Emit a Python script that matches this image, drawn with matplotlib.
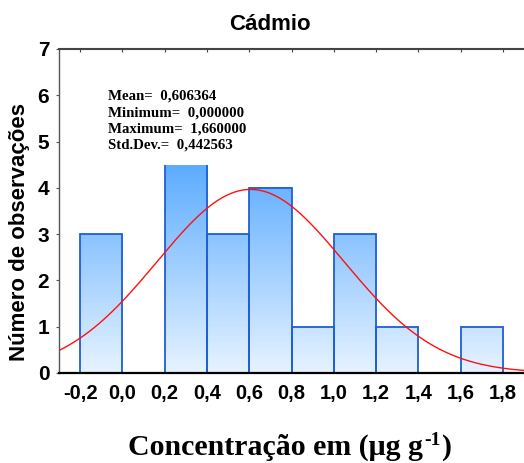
import numpy as np
import matplotlib
matplotlib.use("Agg")
import matplotlib.pyplot as plt
from matplotlib.colors import LinearSegmentedColormap
from matplotlib.patches import Rectangle
from matplotlib.transforms import offset_copy

# histogram of cadmium concentrations
bin_edges = [-0.2, 0.0, 0.2, 0.4, 0.6, 0.8, 1.0, 1.2, 1.4, 1.6, 1.8]
counts = [3, 0, 6, 3, 4, 1, 3, 1, 0, 1]
mean = 0.606364
minimum = 0.0
maximum = 1.66
std_dev = 0.442563
x_ticks = [-0.2, 0.0, 0.2, 0.4, 0.6, 0.8, 1.0, 1.2, 1.4, 1.6, 1.8]
y_ticks = [0, 1, 2, 3, 4, 5, 6, 7]

W, H = 524, 463
fig = plt.figure(figsize=(W / 100, H / 100), dpi=100)
ax = fig.add_axes([59 / W, 90 / H, 1 - 59 / W, 324 / H])

widths = np.diff(bin_edges)
bars = ax.bar(bin_edges[:-1], counts, width=widths, align='edge',
              facecolor='none', edgecolor='#1f5fd6', linewidth=1.3, zorder=2)

# vertical gradient fill, same shade at the same height for every bar
grad = LinearSegmentedColormap.from_list('g', ['#e6f3ff', '#4ea4ff'])
for b in bars:
    h = b.get_height()
    if h <= 0:
        continue
    x0 = b.get_x()
    yy = np.linspace(0, h, 100)[:, None] / 5.0
    ax.imshow(yy, cmap=grad, vmin=0, vmax=1, origin='lower', aspect='auto',
              extent=(x0, x0 + b.get_width(), 0, h), zorder=1, interpolation='bilinear')
ax.set_xlim(-0.3, 1.9)
ax.set_ylim(0, 7)

# fitted normal curve, scaled to counts
n = sum(counts)
bw = widths[0]
xs = np.linspace(-0.3, 1.9, 400)
ys = n * bw * np.exp(-0.5 * ((xs - mean) / std_dev) ** 2) / (std_dev * np.sqrt(2 * np.pi))
ax.plot(xs, ys, color='#ff1010', linewidth=1.0, zorder=4)

# statistics box
ax.add_patch(Rectangle((0.088, 0.642), 0.34, 0.27, transform=ax.transAxes,
                       facecolor='white', edgecolor='none', zorder=5))
fmt = lambda v: f"{v:.6f}".replace('.', ',')
lines = [f"Mean=  {fmt(mean)}", f"Minimum=  {fmt(minimum)}",
         f"Maximum=  {fmt(maximum)}", f"Std.Dev.=  {fmt(std_dev)}"]
for i, s in enumerate(lines):
    ax.text(0.105, (373 - 100 - 16.2 * i) / 324, s, transform=ax.transAxes,
            fontsize=10.7, fontweight='bold', family='Liberation Serif',
            va='baseline', ha='left', zorder=6)

# frame
ax.spines['right'].set_visible(False)
ax.spines['left'].set_color('#555555')
ax.spines['left'].set_linewidth(1.0)
ax.spines['top'].set_color('#444444')
ax.spines['top'].set_linewidth(1.5)
ax.spines['bottom'].set_color('black')
ax.spines['bottom'].set_linewidth(1.6)
for s in ax.spines.values():
    s.set_zorder(7)

ax.set_xticks(x_ticks)
ax.set_xticklabels([f"{v:.1f}".replace('.', ',') for v in x_ticks])
ax.set_yticks(y_ticks)
ax.tick_params(axis='x', bottom=False, top=True, direction='in', length=2,
               color='#444444', pad=8, labelsize=14.5)
ax.tick_params(axis='y', left=True, direction='out', length=2,
               color='#555555', pad=5, labelsize=15)
for lab in ax.get_xticklabels() + ax.get_yticklabels():
    lab.set_fontweight('bold')
    lab.set_family('Liberation Sans')

fig.text(270 / W, (H - 30) / H, 'Cádmio', ha='center', va='baseline',
         fontsize=16, fontweight='bold', family='Liberation Sans')
fig.text(20 / W, (H - 232) / H, 'Número de observações', rotation=90,
         ha='center', va='center', fontsize=16, fontweight='bold',
         family='Liberation Sans')

# x label with a small raised exponent
lab_kw = dict(fontweight='bold', family='Liberation Serif', va='baseline')
main = fig.text(128 / W, (H - 455) / H, 'Concentração em (μg g', ha='left',
                fontsize=21.5, **lab_kw)
fig.canvas.draw()
bb = main.get_window_extent()
sup = fig.text(bb.x1 / W, (H - 455) / H, '-1', ha='left', fontsize=14,
               transform=offset_copy(fig.transFigure, fig=fig, x=1, y=10, units='dots'),
               **lab_kw)
fig.canvas.draw()
bb2 = sup.get_window_extent()
fig.text(bb2.x1 / W, (H - 455) / H, ')', ha='left', fontsize=21.5,
         transform=offset_copy(fig.transFigure, fig=fig, x=1, y=0, units='dots'),
         **lab_kw)

fig.savefig('out.png', dpi=100)
